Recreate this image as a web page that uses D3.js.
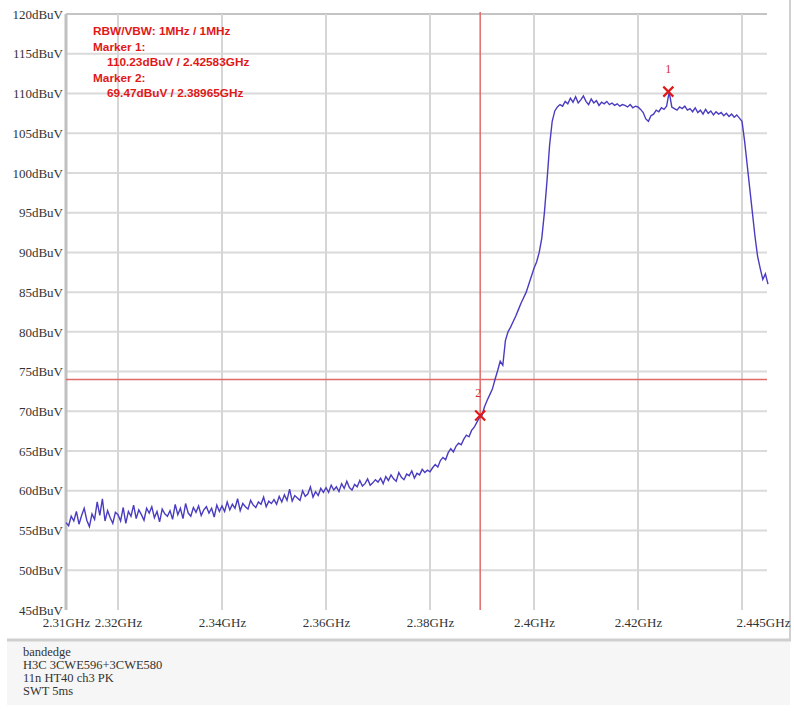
<!DOCTYPE html>
<html>
<head>
<meta charset="utf-8">
<script src="https://cdn.jsdelivr.net/npm/d3@7"></script>
<style>
  body { margin: 0; background: #fff; }
  svg { display: block; }
</style>
</head>
<body>
<div id="chart"></div>
<script>
// sweep settings
const startGHz = 2.31
const stepGHz = 0.0005

// measured level, dBuV, one value every 0.5 MHz from 2.31 GHz
const levels = [
  56.0, 55.6, 56.8, 56.2, 57.4, 55.8, 56.9, 57.8, 56.3, 55.5, 57.1, 56.4, 58.6, 56.9, 59.0, 56.2, 57.5, 56.6, 55.9, 57.3,
  57.0, 56.2, 57.9, 55.9, 57.4, 56.8, 58.2, 56.5, 57.6, 57.0, 56.3, 57.8, 57.2, 58.0, 56.6, 57.4, 56.1, 57.7, 57.1, 56.8,
  57.5, 56.4, 58.3, 57.0, 57.8, 56.5, 58.4, 57.2, 56.8, 57.9, 57.3, 58.1, 56.9, 57.6, 58.0, 57.2, 57.8, 56.7, 58.2, 57.4,
  58.1, 57.4, 58.6, 57.6, 58.3, 57.8, 59.0, 57.5, 58.4, 58.0, 57.7, 58.8, 58.2, 57.9, 58.6, 58.3, 59.2, 58.0, 58.7, 58.4,
  58.9, 58.3, 59.3, 58.6, 59.5, 58.8, 60.2, 58.7, 59.4, 59.1, 58.8, 60.0, 59.3, 59.6, 60.5, 59.2, 59.9, 59.4, 60.3, 59.8,
  60.4, 59.8, 60.7, 60.1, 60.5, 59.9, 60.9, 60.3, 61.2, 60.4, 60.1, 60.8, 60.5, 61.3, 60.6, 60.9, 61.5, 60.7, 61.0, 61.4,
  61.1, 61.6, 60.9, 61.8, 61.3, 62.0, 61.5, 61.2, 62.3, 61.7, 61.4, 62.1, 61.9, 62.5, 61.6, 62.2, 62.0, 62.7, 62.3, 62.6,
  62.4, 62.9, 63.3, 63.0, 63.8, 64.2, 63.9, 64.8, 65.3, 64.9, 65.6, 66.0, 65.8, 66.5, 67.0, 66.8, 67.6, 68.0, 68.6, 69.2,
  69.5, 70.6, 71.4, 72.1, 72.8, 74.0, 75.1, 76.3, 75.8, 78.9, 80.0, 80.6, 81.3, 82.0, 82.8, 83.6, 84.3, 85.0, 86.0, 87.0,
  88.0, 88.8, 90.0, 91.8, 95.0, 99.0, 103.5, 106.5, 107.8, 108.3, 108.6, 108.4, 109.0, 108.7, 109.4, 108.9, 109.6, 108.8, 109.2, 109.7,
  109.0, 108.6, 109.3, 108.8, 109.1, 108.5, 108.9, 108.7, 109.0, 108.6, 108.8, 108.5, 108.7, 108.4, 108.6, 108.5, 108.3, 108.6, 108.2, 108.4,
  108.3, 108.0, 107.6, 106.8, 106.5, 107.2, 107.4, 107.9, 107.7, 108.2, 108.0, 108.4, 110.2, 108.3, 108.1, 107.9, 108.3, 108.1, 108.4, 107.9,
  108.1, 107.7, 108.2, 107.6, 107.9, 107.4, 108.0, 107.5, 107.8, 107.3, 107.7, 107.4, 107.6, 107.2, 107.5, 107.1, 107.4, 107.0, 107.3, 106.9,
  106.5, 104.0, 101.0, 98.0, 95.0, 92.0, 89.5, 88.0, 86.6, 87.3, 86.0
]

const yTicks = [45, 50, 55, 60, 65, 70, 75, 80, 85, 90, 95, 100, 105, 110, 115, 120]
const xTicks = [2.31, 2.32, 2.34, 2.36, 2.38, 2.40, 2.42, 2.445]
const xTickLabels = ['2.31GHz', '2.32GHz', '2.34GHz', '2.36GHz', '2.38GHz', '2.4GHz', '2.42GHz', '2.445GHz']
const xGrid = [2.32, 2.34, 2.36, 2.38, 2.40, 2.42, 2.44]

const limitLevel = 74
const markers = [
  { name: '1', freq: 2.42583, level: 110.23 },
  { name: '2', freq: 2.38965, level: 69.47 }
]
const infoLines = [
  { text: 'RBW/VBW: 1MHz / 1MHz', indent: false },
  { text: 'Marker 1:', indent: false },
  { text: '110.23dBuV / 2.42583GHz', indent: true },
  { text: 'Marker 2:', indent: false },
  { text: '69.47dBuV / 2.38965GHz', indent: true }
]
const footLines = ['bandedge', 'H3C 3CWE596+3CWE580', '11n HT40 ch3 PK', 'SWT 5ms']

const W = 794, H = 711
const trace = levels.map((v, i) => ({ f: startGHz + i * stepGHz, v }))
const serif = '"Liberation Serif", "Times New Roman", serif'

const svg = d3.select('#chart').append('svg').attr('width', W).attr('height', H)

const x = d3.scaleLinear().domain([2.31, 2.445]).range([66, 768])
const y = d3.scaleLinear().domain([45, 120]).range([610, 14])

// frame + footer panel
svg.append('rect').attr('x', 7).attr('y', 641).attr('width', 783).attr('height', 64).attr('fill', '#f6f6f6')
svg.append('line').attr('x1', 7).attr('x2', 791).attr('y1', 640).attr('y2', 640)
  .attr('stroke', '#cfcfcf').attr('stroke-width', 3)
svg.append('line').attr('x1', 790).attr('x2', 790).attr('y1', 0).attr('y2', 640)
  .attr('stroke', '#d0d0d0').attr('stroke-width', 2)

// grid
svg.append('g').selectAll('line').data(yTicks.filter(d => d > 45)).enter().append('line')
  .attr('x1', x(2.31)).attr('x2', 767)
  .attr('y1', d => y(d)).attr('y2', d => y(d))
  .attr('stroke', d => d === 120 ? '#c4c4c4' : '#dadada').attr('stroke-width', 2)

svg.append('g').selectAll('line').data(xGrid).enter().append('line')
  .attr('x1', d => x(d)).attr('x2', d => x(d))
  .attr('y1', y(120)).attr('y2', y(45))
  .attr('stroke', '#d6d6d6').attr('stroke-width', 2)

svg.append('line').attr('x1', x(2.31)).attr('x2', x(2.31)).attr('y1', y(120)).attr('y2', y(45))
  .attr('stroke', '#c0c0c0').attr('stroke-width', 3)

// axes
const yAxis = svg.append('g').attr('transform', 'translate(63,0)')
  .call(d3.axisLeft(y).tickValues(yTicks).tickSize(0).tickPadding(0).tickFormat(d => d + 'dBuV'))
const xAxis = svg.append('g').attr('transform', `translate(0,${y(45)})`)
  .call(d3.axisBottom(x).tickValues(xTicks).tickSize(0).tickPadding(8).tickFormat((d, i) => xTickLabels[i]))
;[yAxis, xAxis].forEach(a => {
  a.select('.domain').remove()
  a.selectAll('text').attr('fill', '#333').style('font-family', serif).style('font-size', '13px')
})
xAxis.selectAll('text').filter((d, i) => i === xTicks.length - 1).attr('dx', -5)

// limit line and marker line
svg.append('line').attr('x1', x(2.31)).attr('x2', 767).attr('y1', y(limitLevel)).attr('y2', y(limitLevel))
  .attr('stroke', '#e06a6a').attr('stroke-width', 1.5)
svg.append('line').attr('x1', x(markers[1].freq)).attr('x2', x(markers[1].freq)).attr('y1', 12).attr('y2', y(45))
  .attr('stroke', '#e06a6a').attr('stroke-width', 1.5)

// trace
const line = d3.line().x(d => x(d.f)).y(d => y(d.v))
svg.append('path').datum(trace).attr('d', line)
  .attr('fill', 'none').attr('stroke', '#4a3cc0').attr('stroke-width', 1.4)

// markers
const mk = svg.append('g').selectAll('g').data(markers).enter().append('g')
  .attr('transform', d => `translate(${x(d.freq)},${y(d.level)})`)
mk.append('path').attr('d', 'M-5,-5L5,5M-5,5L5,-5')
  .attr('stroke', '#e01818').attr('stroke-width', 2.2)
mk.append('text').text(d => d.name)
  .attr('x', d => d.name === '2' ? -5 : -3).attr('y', -19)
  .attr('fill', '#d03030').style('font-family', serif).style('font-size', '12px')

// info text
svg.append('g').selectAll('text').data(infoLines).enter().append('text')
  .attr('x', d => d.indent ? 107 : 93).attr('y', (d, i) => 35 + i * 15.5)
  .text(d => d.text)
  .attr('fill', '#e01818').style('font-family', '"Liberation Sans", Arial, sans-serif')
  .style('font-size', '11.8px').style('font-weight', 'bold')

// footer
svg.append('g').selectAll('text').data(footLines).enter().append('text')
  .attr('x', 23).attr('y', (d, i) => 656 + i * 13)
  .text(d => d)
  .attr('fill', '#333').style('font-family', serif).style('font-size', '12.5px')
</script>
</body>
</html>
